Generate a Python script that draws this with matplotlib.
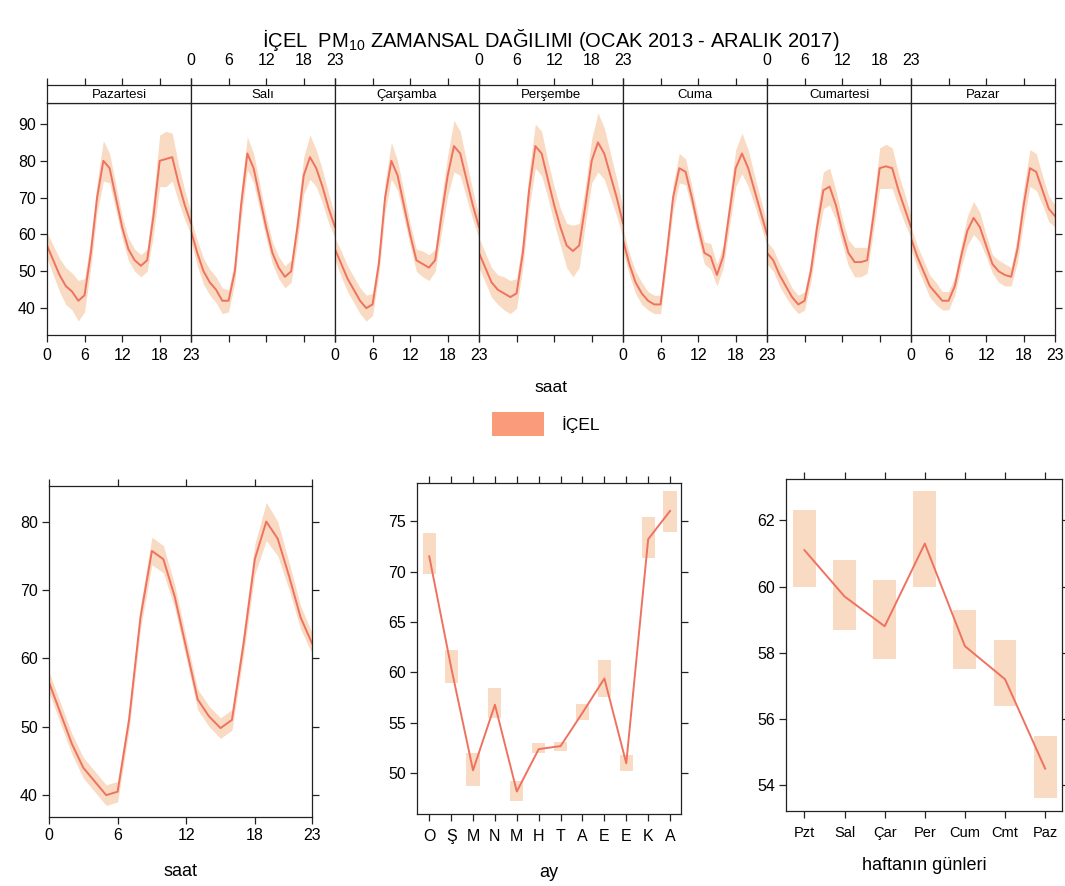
import matplotlib
matplotlib.use("Agg")
import matplotlib.pyplot as plt
import numpy as np

plt.rcParams['font.family'] = ['Liberation Sans', 'DejaVu Sans']
plt.rcParams['mathtext.fontset'] = 'custom'
plt.rcParams['mathtext.rm'] = 'Liberation Sans'

# ---------------- data ----------------
hours = list(range(24))
day_names = ["Pazartesi", "Salı", "Çarşamba", "Perşembe", "Cuma", "Cumartesi", "Pazar"]

mon_mean = [57, 53, 49, 46, 44.5, 42, 43.5, 55, 70, 80, 78, 70, 62, 56, 53, 51.5, 53, 65, 80, 80.5, 81, 74, 68, 63]
mon_ci   = [3.5, 4, 4.5, 5, 5, 5.5, 4.5, 4, 4, 5.5, 4, 3.5, 3, 3, 3, 3, 3, 5, 7, 7.5, 6.5, 5, 4, 3]
tue_mean = [61, 55, 50, 47, 45, 42, 42, 50, 68, 82, 78, 70, 62, 55, 51, 48.5, 50, 62, 76, 81, 78, 73, 67, 62]
tue_ci   = [3, 3.5, 3.5, 3.5, 3.5, 3.5, 3, 3, 4, 4.5, 4, 3.5, 3, 3, 3, 3, 3, 4, 5, 6, 5, 4.5, 4, 3]
wed_mean = [56, 52, 48, 45, 42, 40, 41, 52, 70, 80, 76, 68, 60, 53, 52, 51, 53, 65, 76, 84, 82, 75, 68, 62]
wed_ci   = [3, 3.5, 3.5, 3.5, 3.5, 3.5, 3, 3, 4, 5, 4, 3.5, 3, 3, 3.5, 3.5, 3, 4.5, 5.5, 7, 6, 5, 4, 3]
thu_mean = [55, 51, 47, 45, 44, 43, 44, 55, 72, 84, 82, 75, 68, 62, 57, 55.5, 57, 68, 80, 85, 82, 76, 70, 63]
thu_ci   = [4, 4, 4, 4, 4.5, 4.5, 4, 4, 5, 6, 6, 5, 5, 5, 6, 7, 6, 5, 6, 8, 7, 6, 5, 4]
fri_mean = [58.5, 52, 47, 44, 42, 41, 41, 55, 70, 78, 77, 70, 62, 55, 54, 49, 54, 66, 78, 82, 78, 72, 66, 60]
fri_ci   = [3, 3, 3, 3, 2.5, 2.5, 2.5, 3, 3.5, 4, 3.5, 3, 3, 3, 3.5, 3, 3, 4, 5, 5.5, 5, 4, 3.5, 3]
sat_mean = [55, 53, 49, 46, 43, 41, 42, 50, 62, 72, 73, 68, 61, 55, 52.5, 52.5, 53, 65, 78, 78.5, 78, 72, 67, 62]
sat_ci   = [3, 3, 3, 3, 2.5, 2.5, 2.5, 3, 4, 5, 5, 4, 3.5, 3.5, 4, 4, 3.5, 4, 5.5, 6, 5.5, 4.5, 4, 3]
sun_mean = [59, 54, 50, 46, 44, 42, 42, 46, 54, 61, 64.5, 62, 57, 52, 50, 49, 48.5, 56, 68, 78, 77, 72, 67, 65]
sun_ci   = [3, 3, 3, 3, 3, 2.5, 2.5, 2.5, 3, 4, 4.5, 4, 3, 2.5, 3, 3, 2.5, 3.5, 4.5, 5, 5, 4, 3.5, 3]

hour_mean = [56.5, 52, 47.5, 44, 42, 40, 40.5, 51, 66, 75.7, 74.5, 69, 61.5, 54, 51.5, 49.8, 51, 62, 74.5, 80, 77.5, 72, 66, 62.2]
hour_ci   = [1.5, 1.5, 1.5, 1.5, 1.5, 1.5, 1.5, 1.5, 1.7, 2, 2, 1.7, 1.5, 1.5, 1.5, 1.5, 1.5, 1.7, 2.2, 2.8, 2.5, 2, 1.7, 1.5]

month_labels = ["O", "Ş", "M", "N", "M", "H", "T", "A", "E", "E", "K", "A"]
month_mean = [71.5, 60.5, 50.3, 56.8, 48.2, 52.4, 52.7, 56.0, 59.4, 51.0, 73.2, 76.0]
month_lo   = [69.8, 59.0, 48.7, 55.5, 47.3, 52.0, 52.2, 55.3, 57.6, 50.2, 71.3, 73.9]
month_hi   = [73.8, 62.2, 52.0, 58.5, 49.2, 53.0, 53.1, 56.9, 61.2, 51.8, 75.4, 78.0]

wday_labels = ["Pzt", "Sal", "Çar", "Per", "Cum", "Cmt", "Paz"]
wday_mean = [61.1, 59.7, 58.8, 61.3, 58.2, 57.2, 54.5]
wday_lo   = [60.0, 58.7, 57.8, 60.0, 57.5, 56.4, 53.6]
wday_hi   = [62.3, 60.8, 60.2, 62.9, 59.3, 58.4, 55.5]

series_name = "İÇEL"

# ---------------- style ----------------
LINE = "#EF7260"
BAND = "#F9D6BC"
LEG = "#FA9C7C"
W, H = 1065, 886

fig = plt.figure(figsize=(W / 100, H / 100), dpi=100)


def ax_px(l, t, r, b):
    return fig.add_axes([l / W, 1 - b / H, (r - l) / W, (b - t) / H])


def style(ax, size=11.5):
    for s in ax.spines.values():
        s.set_linewidth(0.9)
        s.set_color("#222222")
    ax.tick_params(direction="out", length=5, width=0.9, labelsize=size, color="#222222", pad=3)


day_means = [mon_mean, tue_mean, wed_mean, thu_mean, fri_mean, sat_mean, sun_mean]
day_cis = [mon_ci, tue_ci, wed_ci, thu_ci, fri_ci, sat_ci, sun_ci]

x_left, pw = 47, 144
htick = [0, 6, 12, 18, 23]
for i in range(7):
    x0 = x_left + i * pw
    x1 = x0 + pw
    ax = ax_px(x0, 103, x1, 335)
    style(ax)
    m = np.array(day_means[i])
    c = np.array(day_cis[i])
    ax.fill_between(hours, m - c, m + c, color=BAND, alpha=0.9, linewidth=0)
    ax.plot(hours, m, color=LINE, lw=1.4)
    ax.set_xlim(0, 23)
    ax.set_ylim(32.7, 95.7)
    ax.set_xticks(htick)
    ax.set_yticks([40, 50, 60, 70, 80, 90])
    ax.tick_params(axis="x", bottom=True, top=False, labelbottom=(i % 2 == 0), pad=4)
    ax.tick_params(axis="y", left=(i == 0), labelleft=(i == 0), right=(i == 6), labelright=False)
    # strip
    sa = ax_px(x0, 85, x1, 103)
    style(sa)
    sa.set_xlim(0, 23)
    sa.set_ylim(0, 1)
    sa.set_yticks([])
    sa.set_xticks(htick)
    sa.tick_params(axis="x", bottom=False, labelbottom=False, top=True, labeltop=(i % 2 == 1), pad=7)
    sa.text(11.5, 0.45, day_names[i], ha="center", va="center", fontsize=9.5)

fig.text(551 / W, 1 - 387 / H, "saat", ha="center", va="center", fontsize=12.5)

fig.text(551 / W, 1 - 40 / H,
         "İÇEL  PM$_{\\mathregular{10}}$ ZAMANSAL DAĞILIMI (OCAK 2013 - ARALIK 2017)",
         ha="center", va="center", fontsize=14.5)

# legend
fig.patches.append(plt.Rectangle((492 / W, 1 - 436 / H), 52 / W, 24 / H,
                                 transform=fig.transFigure, color=LEG, lw=0))
fig.text(561 / W, 1 - 425 / H, series_name, ha="left", va="center", fontsize=12.5)

# bottom-left: hour
ax = ax_px(49, 486, 312, 817)
style(ax)
m = np.array(hour_mean)
c = np.array(hour_ci)
ax.fill_between(hours, m - c, m + c, color=BAND, alpha=0.9, linewidth=0)
ax.plot(hours, m, color=LINE, lw=1.4)
ax.set_xlim(0, 23)
ax.set_ylim(36.8, 85.2)
ax.set_xticks(htick)
ax.set_yticks([40, 50, 60, 70, 80])
ax.tick_params(top=True, right=True, labeltop=False, labelright=False)
ax.set_xlabel("saat", fontsize=13, labelpad=14)

# bottom-middle: month
ax = ax_px(417, 483, 681, 814)
style(ax)
mx = np.arange(1, 13)
ax.bar(mx, np.array(month_hi) - np.array(month_lo), bottom=month_lo, width=0.6, color=BAND, alpha=0.9, lw=0)
ax.plot(mx, month_mean, color=LINE, lw=1.4)
ax.set_xlim(0.44, 12.5)
ax.set_ylim(45.97, 78.77)
ax.set_xticks(mx)
ax.set_xticklabels(month_labels)
ax.set_yticks([50, 55, 60, 65, 70, 75])
ax.tick_params(top=True, right=True, labeltop=False, labelright=False)
ax.tick_params(axis="x", pad=6)
ax.set_xlabel("ay", fontsize=13, labelpad=14)

# bottom-right: weekday
ax = ax_px(786, 479, 1062, 811)
style(ax)
wx = np.arange(1, 8)
ax.bar(wx, np.array(wday_hi) - np.array(wday_lo), bottom=wday_lo, width=0.57, color=BAND, alpha=0.9, lw=0)
ax.plot(wx, wday_mean, color=LINE, lw=1.4)
ax.set_xlim(0.54, 7.42)
ax.set_ylim(53.22, 63.25)
ax.set_xticks(wx)
ax.set_xticklabels(wday_labels, fontsize=10.5)
ax.set_yticks([54, 56, 58, 60, 62])
ax.tick_params(top=True, right=True, labeltop=False, labelright=False)
ax.tick_params(axis="x", pad=6)
ax.set_xlabel("haftanın günleri", fontsize=13, labelpad=12)

fig.savefig("out.png", dpi=100, facecolor="white")
